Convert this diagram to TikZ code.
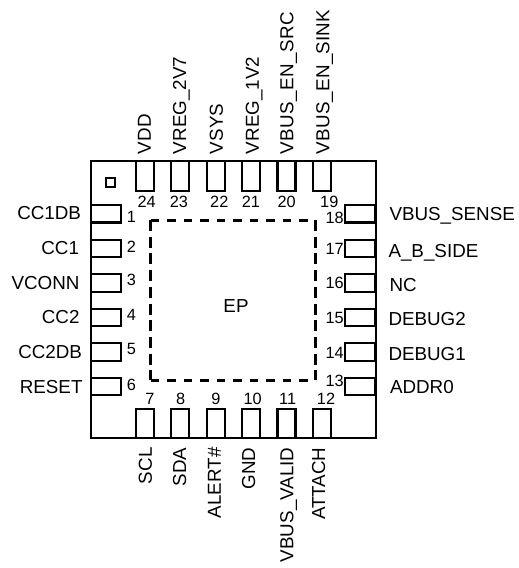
\documentclass[tikz,border=0pt]{standalone}
\usepackage{fontspec}
\setmainfont{Liberation Sans}
\tikzset{
 x=1pt,y=-1pt,
 ln/.style={line width=2.1pt,draw=black},
 hpin/.style={ln,rectangle,minimum width=30pt,minimum height=17.5pt,inner sep=0pt,outer sep=0pt},
 vpin/.style={ln,rectangle,minimum width=18pt,minimum height=29.5pt,inner sep=0pt,outer sep=0pt},
 lab/.style={font=\fontsize{18.8}{18.8}\selectfont,inner sep=0pt,outer sep=0pt,text height=13.5pt,text depth=0pt},
 num/.style={font=\fontsize{16.3}{16.3}\selectfont,inner sep=0pt,outer sep=0pt,text height=11.7pt,text depth=0pt},
 vdash/.style={line width=3pt,dash pattern=on 11pt off 5.7pt},
 hdash/.style={line width=3pt,dash pattern=on 8.5pt off 8pt},
}
\begin{document}
\begin{tikzpicture}
\useasboundingbox (0,0) rectangle (519,568);
\node[ln,rectangle,minimum width=285pt,minimum height=277pt,inner sep=0pt,outer sep=0pt] (pkg) at (233.2,299.6) {};
\node[ln,rectangle,minimum width=9pt,minimum height=9pt,inner sep=0pt] (dot) at (110.7,182.7) {};
\node[rectangle,minimum width=165pt,minimum height=160pt,inner sep=0pt,outer sep=0pt] (ep) at (233.2,300) {};
\draw[vdash] (ep.north west) -- (ep.south west);
\draw[vdash] (ep.north east) -- (ep.south east);
\draw[hdash] (ep.north west) -- (ep.north east);
\draw[hdash] (ep.south west) -- (ep.south east);
\node[lab] (eplab) at (236,306) {EP};
% left
\foreach \n/\y/\t/\ny/\ly/\ex in {1/213.7/CC1DB/217/212.7/81,2/248.3/CC1/247/247.7/79,3/282.9/VCONN/280/283/79.5,4/317.4/CC2/315/317/79.5,5/352/CC2DB/349/352/82,6/386.5/RESET/385/386.7/82.5}{
 \node[hpin] (p\n) at (105.7,\y) {};
 \node[num] (n\n) at (131.5,\ny) {\n};
 \node[lab,anchor=east] (l\n) at (\ex,\ly) {\t};
}
% right
\foreach \n/\y/\t/\ny/\ly/\sx in {18/213.7/VBUS\_SENSE/217.3/214/389.5,17/248.3/A\_B\_SIDE/248.3/250.7/388.5,16/282.9/NC/282.3/284.3/389.5,15/317.4/DEBUG2/317.3/319/388.5,14/352/DEBUG1/352.3/354/388.5,13/386.5/ADDR0/381/386.7/390}{
 \node[hpin] (p\n) at (360.2,\y) {};
 \node[num] (n\n) at (334.7,\ny) {\n};
 \node[lab,anchor=west] (l\n) at (\sx,\ly) {\t};
}
% top
\foreach \n/\x/\t/\nx/\lx in {24/144.8/VDD/146.7/144,23/180.2/VREG\_2V7/179/179.3,22/215.8/VSYS/219.3/216,21/251.2/VREG\_1V2/251/252,20/286.5/{\addfontfeature{LetterSpace=2}VBUS\_EN\_SRC}/286.7/286.7,19/321.8/{\addfontfeature{LetterSpace=1}VBUS\_EN\_SINK}/329.3/322.7}{
 \node[vpin] (p\n) at (\x,175.8) {};
 \node[num] (n\n) at (\nx,201.7) {\n};
 \node[lab,rotate=90,anchor=west] (l\n) at (\lx,154) {\t};
}
% bottom
\foreach \n/\x/\t/\nx/\lx in {7/144.8/SCL/150/145,8/180.2/SDA/180.7/179.3,9/215.8/ALERT\#/216/214,10/251.2/GND/252.7/248.3,11/286.5/VBUS\_VALID/287.7/286.7,12/321.8/ATTACH/326/318.3}{
 \node[vpin] (p\n) at (\x,423.4) {};
 \node[num] (n\n) at (\nx,399) {\n};
 \node[lab,rotate=90,anchor=east] (l\n) at (\lx,447.5) {\t};
}
\end{tikzpicture}
\end{document}
